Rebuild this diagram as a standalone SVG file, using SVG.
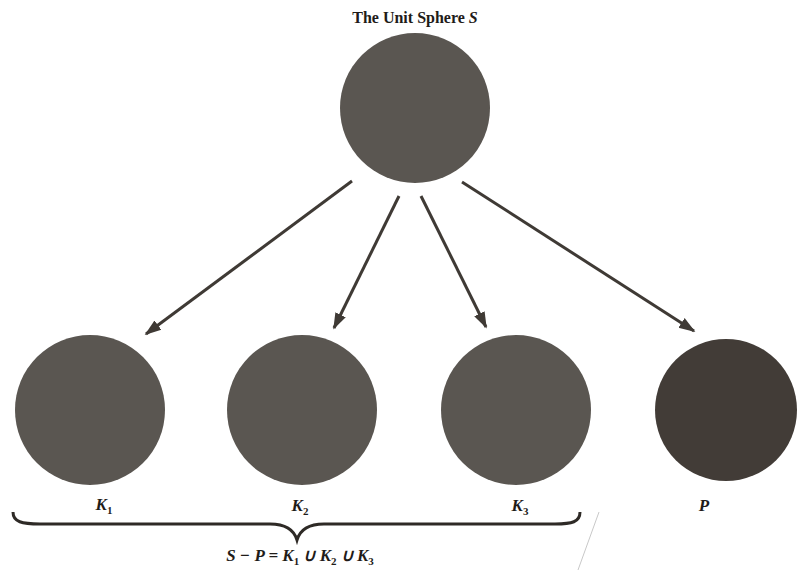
<svg xmlns="http://www.w3.org/2000/svg" width="797" height="570" viewBox="0 0 797 570">
<style>
.t{font-family:"Liberation Serif","Times New Roman",serif;fill:#1f1c19;font-weight:bold}
.i{font-style:italic}
.c{fill:#5a5651}
.e{stroke:#3f3a35;stroke-width:3;fill:none}
</style>
<defs>
<marker id="ah" viewBox="0 0 10 10" refX="9" refY="5" markerWidth="5.5" markerHeight="5.5" orient="auto" markerUnits="strokeWidth">
<path d="M0,1.5 L10,5 L0,8.5 z" fill="#3f3a35"/>
</marker>
</defs>
<rect width="797" height="570" fill="#fff"/>
<g id="sphere">
<circle class="c" cx="415" cy="108" r="75"/>
<text class="t" x="415" y="23" font-size="16" text-anchor="middle">The Unit Sphere <tspan class="i">S</tspan></text>
</g>
<g id="K1">
<circle class="c" cx="90" cy="410" r="75"/>
<text class="t i" x="104" y="510" font-size="17" text-anchor="middle">K<tspan font-size="11" dy="4" font-style="normal">1</tspan></text>
</g>
<g id="K2">
<circle class="c" cx="302" cy="410" r="75"/>
<text class="t i" x="300" y="511" font-size="17" text-anchor="middle">K<tspan font-size="11" dy="4" font-style="normal">2</tspan></text>
</g>
<g id="K3">
<circle class="c" cx="516" cy="410" r="75"/>
<text class="t i" x="520" y="511" font-size="17" text-anchor="middle">K<tspan font-size="11" dy="4" font-style="normal">3</tspan></text>
</g>
<g id="P">
<circle cx="726" cy="410" r="71" fill="#423c37"/>
<text class="t i" x="704" y="511" font-size="17" text-anchor="middle">P</text>
</g>
<g id="connectors">
<line class="e" x1="352" y1="181" x2="146" y2="334" marker-end="url(#ah)"/>
<line class="e" x1="399" y1="196" x2="334" y2="328" marker-end="url(#ah)"/>
<line class="e" x1="421" y1="196" x2="486" y2="327" marker-end="url(#ah)"/>
<line class="e" x1="462" y1="182" x2="694" y2="331" marker-end="url(#ah)"/>
</g>
<g id="brace">
<path d="M13,512 C13,522 22,524 40,524 L270,524 C286,524 294,530 297,540 C300,530 308,524 324,524 L555,524 C572,524 580,522 580,512" fill="none" stroke="#2e2a26" stroke-width="3"/>
<text class="t i" x="300" y="561" font-size="17" text-anchor="middle">S − P = K<tspan font-size="11" dy="4" font-style="normal">1</tspan><tspan dy="-4"> ∪ K</tspan><tspan font-size="11" dy="4" font-style="normal">2</tspan><tspan dy="-4"> ∪ K</tspan><tspan font-size="11" dy="4" font-style="normal">3</tspan></text>
</g>
<line x1="599" y1="512" x2="578" y2="570" stroke="#c8c8c8" stroke-width="1"/>
</svg>
